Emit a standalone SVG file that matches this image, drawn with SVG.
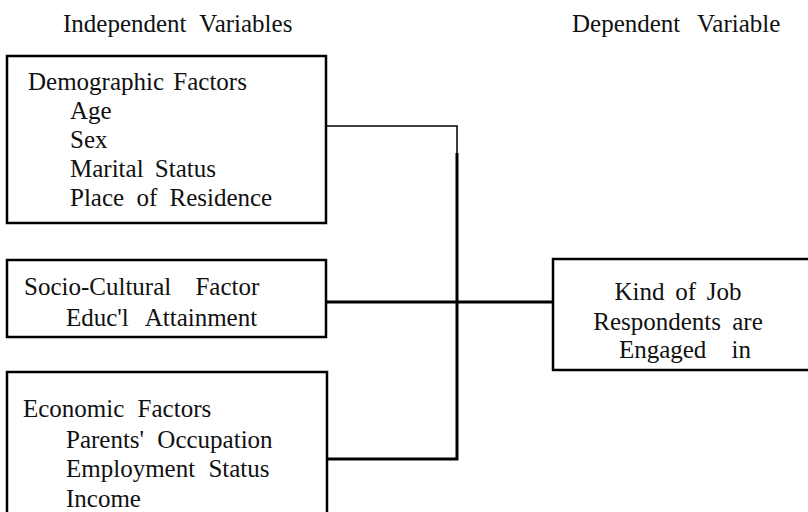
<svg xmlns="http://www.w3.org/2000/svg" width="808" height="512" viewBox="0 0 808 512" font-family="Liberation Serif, Times New Roman, DejaVu Serif, serif" font-size="25">
<style>
.t{font-family:"Liberation Serif",serif;font-size:25px;fill:#111;}
.box{fill:#fff;stroke:#000;stroke-width:2.5;}
.thin{stroke:#000;stroke-width:1.5;fill:none;}
.thick{stroke:#000;stroke-width:3;fill:none;}
</style>
<rect width="808" height="512" fill="#fff"/>
<text class="t" x="63" y="32" word-spacing="7">Independent Variables</text>
<text class="t" x="572" y="32" word-spacing="11">Dependent Variable</text>
<g id="connectors">
<path class="thin" d="M326 126 H457 V153"/>
<path class="thick" d="M457 153 V459 H326"/>
<path class="thick" d="M326 302 H553"/>
</g>
<g id="demographic">
<rect class="box" x="7" y="56" width="319" height="167"/>
<text class="t" x="28" y="90" word-spacing="3">Demographic Factors</text>
<text class="t" x="70" y="119">Age</text>
<text class="t" x="70" y="148">Sex</text>
<text class="t" x="70" y="177" word-spacing="5">Marital Status</text>
<text class="t" x="70" y="206" word-spacing="6">Place of Residence</text>
</g>
<g id="socio">
<rect class="box" x="7" y="260" width="319" height="77"/>
<text class="t" x="24" y="295" word-spacing="18">Socio-Cultural Factor</text>
<text class="t" x="66" y="326" word-spacing="11">Educ'l Attainment</text>
</g>
<g id="economic">
<rect class="box" x="7" y="372" width="320" height="150"/>
<text class="t" x="23" y="417" word-spacing="7">Economic Factors</text>
<text class="t" x="66" y="448" word-spacing="7">Parents' Occupation</text>
<text class="t" x="66" y="477" word-spacing="7">Employment Status</text>
<text class="t" x="66" y="507">Income</text>
</g>
<g id="dependent">
<rect class="box" x="553" y="259" width="270" height="111"/>
<text class="t" x="678" y="300" text-anchor="middle" word-spacing="4.5">Kind of Job</text>
<text class="t" x="678" y="330" text-anchor="middle" word-spacing="5">Respondents are</text>
<text class="t" x="685" y="358" text-anchor="middle" word-spacing="19">Engaged in</text>
</g>
</svg>
